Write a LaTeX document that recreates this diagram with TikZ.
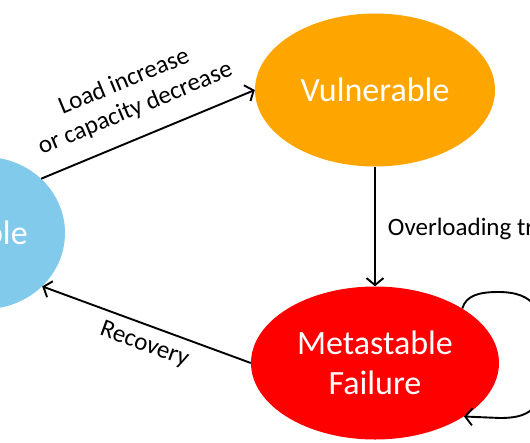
\documentclass[tikz,border=0pt]{standalone}
\usepackage{fontspec}
\setmainfont{Carlito}
\usetikzlibrary{shapes.geometric,arrows.meta}
\definecolor{stblue}{RGB}{130,202,235}
\definecolor{vuorange}{RGB}{255,165,0}
\definecolor{mfred}{RGB}{255,0,0}
\begin{document}
\begin{tikzpicture}[x=1pt,y=-1pt,
  state/.style={ellipse, inner sep=0pt, text=white, font=\fontsize{34}{40}\selectfont, align=center},
  tipbarb/.tip={Straight Barb[length=7pt,width=17pt]},
  conn/.style={line width=1.9pt, -tipbarb},
  rconn/.style={line width=1.9pt, tipbarb-},
  lbl/.style={font=\fontsize{25}{29}\selectfont, align=center, inner sep=0pt}]
\useasboundingbox (0,0) rectangle (530,442);
\clip (0,0) rectangle (530,442);
\node[state, fill=stblue, minimum width=160pt, minimum height=152pt] (st) at (-15,233) {Stable};
\node[state, fill=vuorange, minimum width=240pt, minimum height=153pt] (vu) at (375,90) {Vulnerable};
\node[state, fill=mfred, minimum width=248pt, minimum height=153pt] (mf) at (375,363) {Metastable\\Failure};
\draw[conn] (st.44) -- (vu.west)
  node[midway, sloped, lbl, yshift=43pt, xshift=-2pt] {Load increase\\or capacity decrease};
\draw[conn] (vu.south) -- (mf.north)
  node[midway, lbl, anchor=west, xshift=12pt, yshift=-2pt] {Overloading trigger};
\draw[rconn] (st.-43) -- (mf.west)
  node[midway, sloped, lbl, yshift=-20pt, xshift=5pt] {Recovery};
\coordinate (l1) at (498,292);
\coordinate (l2) at (545,355);
\coordinate (l3) at (500,418);
\draw[conn] (mf.32) .. controls (466,296) and (478,292) .. (l1)
  .. controls (535,292) and (545,310) .. (l2)
  .. controls (545,405) and (535,418) .. (l3) -- (mf.-31);
\end{tikzpicture}
\end{document}
